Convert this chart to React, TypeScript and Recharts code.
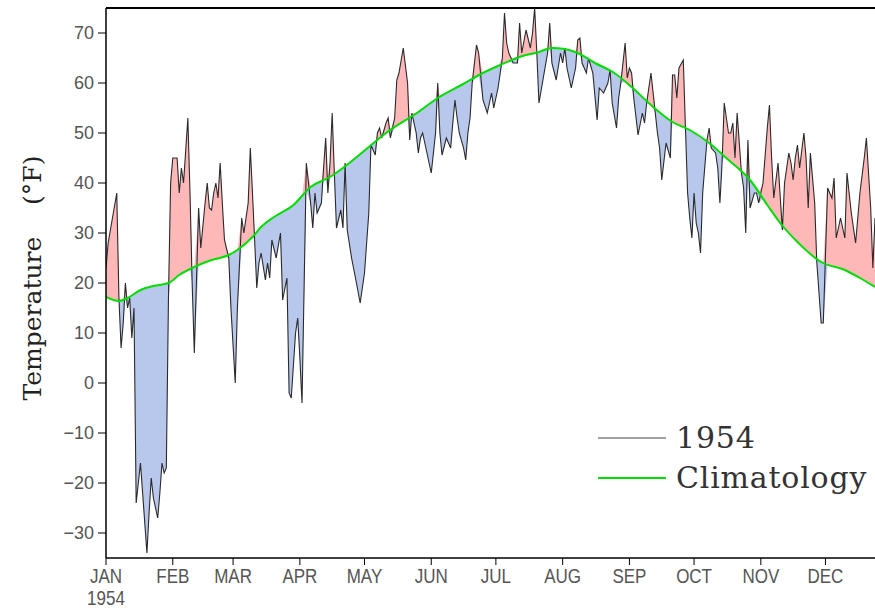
import { ComposedChart, Area, Line, XAxis, YAxis, ReferenceLine, Legend } from "recharts"

const monthTicks = [0, 31, 59, 90, 120, 151, 181, 212, 243, 273, 304, 334]
const monthLabels = ["JAN", "FEB", "MAR", "APR", "MAY", "JUN", "JUL", "AUG", "SEP", "OCT", "NOV", "DEC"]
const tempTicks = [-30, -20, -10, 0, 10, 20, 30, 40, 50, 60, 70]

// [day of year, daily temperature °F]
const daily1954: [number, number][] = [
  [0, 23], [1, 28], [3, 33], [5, 38], [6, 17], [7, 7], [8, 12], [9, 20], [10, 15], [11, 17],
  [12, 9], [13, 15], [14, -24], [15, -20], [16, -16], [17, -22], [19, -34], [20, -26], [21, -19], [22, -23],
  [24, -27], [25, -22], [26, -16], [27, -18], [28, -17], [29, 17], [30, 40], [31, 45], [33, 45], [34, 38],
  [35, 43], [36, 40], [38, 53], [39, 38], [40, 20], [41, 6], [43, 35], [44, 27], [46, 36], [47, 40],
  [48, 35], [49, 34.6], [50, 38], [51, 40], [52, 37], [53, 44], [54, 36], [55, 28.6], [57, 25], [58, 15],
  [60, 0], [61, 15], [63, 33], [64, 30], [66, 36], [67, 47], [68, 38], [69, 28.6], [70, 19], [71, 24],
  [72, 26], [74, 20.6], [75, 24], [76, 21], [77, 28.6], [79, 25], [81, 30], [82, 16.6], [84, 21], [85, -2],
  [86, -3], [88, 10], [89, 13], [90, 5], [91, -4], [93, 44], [95, 36], [96, 31], [97, 38], [98, 34],
  [100, 36], [101, 43], [102, 49], [103, 38], [104, 44], [105, 54], [106, 42], [107, 31], [109, 34.6], [110, 31],
  [111, 44], [112, 30.6], [114, 25], [116, 20.6], [118, 16], [120, 22], [122, 34], [123, 47.6], [125, 45.6], [126, 50],
  [127, 51], [128, 49], [130, 52], [131, 53], [132, 49], [134, 53], [135, 60.6], [136, 62], [138, 67], [140, 60],
  [141, 48.6], [142, 54], [144, 50], [145, 46], [146, 49], [147, 50], [148, 48], [150, 44], [151, 42], [153, 50],
  [154, 60], [155, 50], [156, 45.6], [158, 49], [160, 47], [161, 52], [162, 56.6], [163, 53], [164, 50], [166, 47],
  [167, 44.6], [168, 50], [169, 53], [170, 60], [172, 67.6], [173, 66], [175, 56.6], [177, 54], [179, 58], [180, 55],
  [182, 59], [184, 65], [185, 74], [186, 68], [187, 66], [189, 64], [191, 64], [192, 72], [193, 66], [195, 70.6],
  [197, 67], [198, 70], [199, 75], [200, 66], [201, 56], [203, 61], [205, 66], [206, 72], [207, 64], [209, 60.6],
  [211, 66], [212, 64], [213, 67], [214, 63], [216, 59], [218, 63], [219, 68.6], [220, 69], [221, 64], [223, 62],
  [224, 65], [226, 62], [228, 52.6], [229, 59], [231, 58], [233, 60], [234, 62.6], [235, 56], [237, 51], [238, 57],
  [239, 60], [241, 68], [242, 61], [243, 63], [244, 62], [245, 57], [247, 49.6], [249, 54], [250, 52], [251, 56],
  [253, 62], [255, 54], [256, 50], [257, 47], [258, 40.6], [260, 48], [262, 45], [263, 61.6], [264, 61.6], [265, 57],
  [266, 63], [268, 64.6], [269, 51], [270, 38], [271, 33], [272, 29], [273, 38], [274, 32], [275, 30], [276, 26],
  [277, 38], [279, 48.6], [280, 51], [281, 47], [283, 46], [284, 43], [285, 36], [286, 44], [287, 56], [289, 50],
  [290, 50], [291, 52], [292, 45], [293, 54], [295, 42], [296, 39], [297, 30], [298, 48.6], [299, 35], [301, 38],
  [302, 38], [303, 36], [305, 40], [307, 51], [308, 55.6], [309, 45], [310, 37], [312, 44], [314, 30.6], [315, 40],
  [317, 46], [318, 44], [319, 40.6], [320, 45], [321, 47.6], [322, 43], [324, 50], [325, 45], [326, 35], [327, 46],
  [329, 36], [330, 24], [331, 18], [332, 12], [333, 12], [335, 39], [337, 37], [338, 41], [339, 29], [341, 33],
  [343, 29], [344, 42], [346, 34], [348, 28], [350, 38], [352, 45], [353, 49], [355, 35], [356, 23], [357, 33],
]

// [day of year, climatological mean °F]
const climatology: [number, number][] = [
  [0, 17.2], [6, 16.4], [10, 17], [16, 18.6], [22, 19.4], [29, 20], [34, 21.6], [43, 23.6], [49, 24.6], [57, 25.6],
  [61, 26.6], [68, 29.2], [72, 31.2], [78, 33.2], [87, 35.6], [95, 39.2], [104, 41.2], [113, 44], [122, 47.2], [130, 50],
  [145, 54.2], [154, 57], [165, 59.6], [175, 62], [183, 63.6], [192, 65.2], [201, 66.2], [207, 67], [213, 66.8], [219, 66],
  [227, 64], [236, 62], [244, 59.2], [253, 55.6], [263, 52.2], [271, 50.6], [280, 48], [289, 44.6], [299, 40.6], [307, 35.6],
  [313, 32], [321, 28.2], [332, 24.2], [343, 22.6], [350, 21], [357, 19.2],
]

// climatology value under a given day, only used as the edge of the shaded bands
function climAt(day: number) {
  for (let i = 1; i < climatology.length; i++) {
    const [d1, v1] = climatology[i]
    const [d0, v0] = climatology[i - 1]
    if (day <= d1) return v0 + ((v1 - v0) * (day - d0)) / (d1 - d0)
  }
  return climatology[climatology.length - 1][1]
}

const rows = daily1954.map(([day, temp]) => {
  const clim = climAt(day)
  return {
    day,
    temp,
    warm: [clim, Math.max(temp, clim)],
    cold: [Math.min(temp, clim), clim],
  }
})

const climRows = climatology.map(([day, clim]) => ({ day, clim }))

const MonthTick = ({ x, y, payload }: any) => {
  const i = monthTicks.indexOf(payload.value)
  const font = { fontFamily: "'Liberation Sans', sans-serif", fontSize: 20, fill: "#555" }
  return (
    <g transform={`translate(${x} ${y}) scale(0.85 1)`}>
      <text x={0} y={16} textAnchor="middle" {...font}>
        {monthLabels[i]}
      </text>
      {i === 0 && (
        <text x={0} y={38} textAnchor="middle" {...font}>
          1954
        </text>
      )}
    </g>
  )
}

const YTitle = ({ viewBox }: any) => {
  const cx = viewBox.x + 32
  const cy = viewBox.y + 270
  return (
    <text
      x={cx}
      y={cy}
      transform={`rotate(-90 ${cx} ${cy})`}
      textAnchor="middle"
      dominantBaseline="central"
      style={{ fontFamily: "'DejaVu Serif', serif", fontSize: 25, fill: "#222", whiteSpace: "pre" }}
    >
      {"Temperature    (°F)"}
    </text>
  )
}

const LegendBox = () => (
  <div style={{ fontFamily: "'DejaVu Serif', serif", fontSize: 30, color: "#333", lineHeight: "40px", letterSpacing: 0.8 }}>
    <div style={{ display: "flex", alignItems: "center" }}>
      <svg width={70} height={6}>
        <line x1={0} x2={68} y1={3} y2={3} stroke="#444" strokeWidth={1} />
      </svg>
      <span style={{ marginLeft: 8 }}>1954</span>
    </div>
    <div style={{ display: "flex", alignItems: "center" }}>
      <svg width={70} height={6}>
        <line x1={0} x2={68} y1={3} y2={3} stroke="#00dd00" strokeWidth={2} />
      </svg>
      <span style={{ marginLeft: 8 }}>Climatology</span>
    </div>
  </div>
)

export default function App() {
  return (
    <div style={{ position: "absolute", left: 0, top: 0, background: "#fff" }}>
      <ComposedChart width={875} height={609} data={rows} margin={{ top: 8, right: 0, bottom: 0, left: 0 }}>
        <XAxis
          type="number"
          dataKey="day"
          domain={[0, 357]}
          ticks={monthTicks}
          allowDataOverflow
          height={51}
          tickSize={7}
          tick={<MonthTick />}
          axisLine={{ stroke: "#000", strokeWidth: 1.5 }}
          tickLine={{ stroke: "#000" }}
        />
        <YAxis
          type="number"
          domain={[-35, 75]}
          ticks={tempTicks}
          allowDataOverflow
          width={106}
          tickSize={8}
          tickMargin={4}
          tickFormatter={(v: number) => (v < 0 ? `\u2212${Math.abs(v)}` : `${v}`)}
          tick={{ fill: "#555", fontSize: 18, fontFamily: "'Liberation Sans', sans-serif" }}
          axisLine={{ stroke: "#000", strokeWidth: 1.5 }}
          tickLine={{ stroke: "#000" }}
          label={<YTitle />}
        />
        <ReferenceLine y={75} stroke="#000" strokeWidth={2} />
        <Area dataKey="warm" type="linear" fill="#ffb8b8" fillOpacity={1} stroke="none" isAnimationActive={false} />
        <Area dataKey="cold" type="linear" fill="#b8c8ec" fillOpacity={1} stroke="none" isAnimationActive={false} />
        <Line dataKey="temp" type="linear" stroke="#2a2a2a" strokeWidth={1.1} dot={false} isAnimationActive={false} />
        <Line
          data={climRows}
          dataKey="clim"
          type="monotone"
          stroke="#00dd00"
          strokeWidth={2}
          dot={false}
          isAnimationActive={false}
        />
        <Legend
          layout="horizontal"
          verticalAlign="middle"
          align="center"
          content={<LegendBox />}
          wrapperStyle={{ position: "absolute", left: 598, top: 418, width: 280, right: "auto", bottom: "auto" }}
        />
      </ComposedChart>
    </div>
  )
}
